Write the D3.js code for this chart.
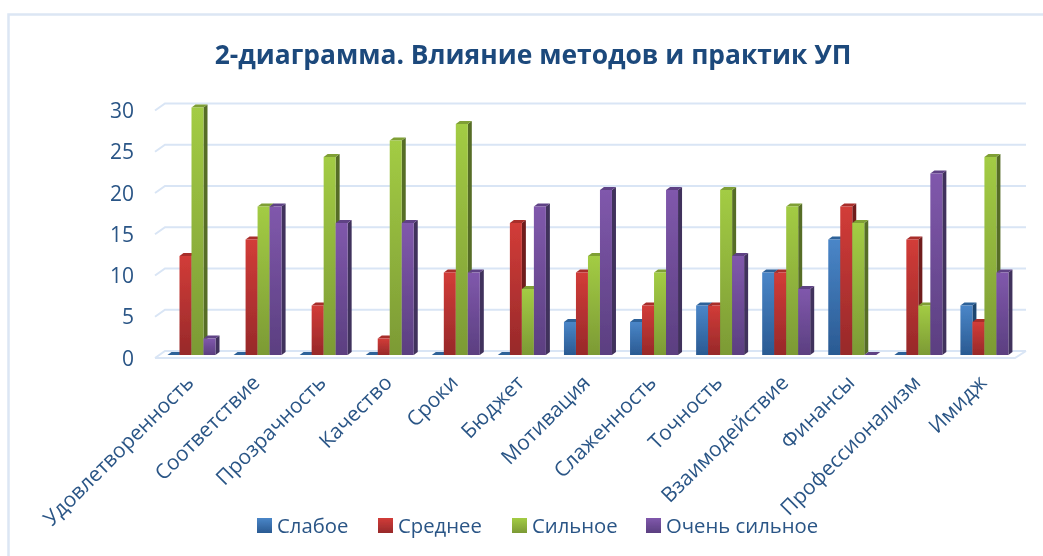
<!DOCTYPE html>
<html>
<head>
<meta charset="utf-8">
<script src="https://cdn.jsdelivr.net/npm/d3@7"></script>
<style>
body{margin:0;background:#fff;}
text{font-family:"Open Sans",sans-serif;}
</style>
</head>
<body>
<div id="chart"></div>
<script>
var categories = ['Удовлетворенность','Соответствие','Прозрачность','Качество','Сроки','Бюджет','Мотивация','Слаженность','Точность','Взаимодействие','Финансы','Профессионализм','Имидж'];
var seriesNames = ['Слабое','Среднее','Сильное','Очень сильное'];
var weak = [0,0,0,0,0,0,4,4,6,10,14,0,6];
var medium = [12,14,6,2,10,16,10,6,6,10,18,14,4];
var strong = [30,18,24,26,28,8,12,10,20,18,16,6,24];
var veryStrong = [2,18,16,16,10,18,20,20,12,8,0,22,10];
var yTicks = [0,5,10,15,20,25,30];
var colors = [
    {top:'#4a86c8',bottom:'#2a5a92',side:'#1f4470',cap:'#2f6299'},
    {top:'#d23c38',bottom:'#97292a',side:'#6f1f1e',cap:'#a82d2b'},
    {top:'#a3cc44',bottom:'#7c9a35',side:'#566d26',cap:'#7f9f35'},
    {top:'#8058ac',bottom:'#5b3f80',side:'#40305c',cap:'#5f4285'}
];
var allValues = [weak,medium,strong,veryStrong];
var textColor = '#2a5586';
var W = 1043, H = 556;
var dx = 4, dy = 3;   // fake 3d depth of a bar

var svg = d3.select('#chart').append('svg').attr('width',W).attr('height',H).style('display','block');
var defs = svg.append('defs');
colors.forEach(function(c,i){
    var g = defs.append('linearGradient').attr('id','grad'+i).attr('x1',0).attr('y1',0).attr('x2',0).attr('y2',1);
    g.append('stop').attr('offset','0%').attr('stop-color',c.top);
    g.append('stop').attr('offset','100%').attr('stop-color',c.bottom);
});
defs.append('filter').attr('id','soft').append('feGaussianBlur').attr('stdDeviation',0.4);
var root = svg.append('g').attr('filter','url(#soft)');

// frame
root.append('path').attr('d','M8.5,556V14.5H1043').attr('fill','none').attr('stroke','#dce6f4').attr('stroke-width',2.5);

root.append('text').attr('x',533).attr('y',64).attr('text-anchor','middle')
    .attr('font-size',26.4).attr('font-weight',700).attr('fill','#1f4a7c')
    .text('2-диаграмма. Влияние методов и практик УП');

var x = d3.scaleBand().domain(categories).range([155,1014]);
var y = d3.scaleLinear().domain([0,30]).range([355,107.5]);

// gridlines with the little step at the wall corner
var grid = root.append('g').attr('fill','none').attr('stroke','#d9e5f5').attr('stroke-width',2);
grid.selectAll('path').data(yTicks).enter().append('path').attr('d',function(d){
    return 'M155,' + (y(d)+3) + 'L165,' + (y(d)-4) + 'H1026';
});
grid.append('path').attr('d','M155,' + (y(0)+3) + 'H1015L1026,' + (y(0)-4));

root.append('g').selectAll('text').data(yTicks).enter().append('text')
    .attr('x',134).attr('y',function(d){return y(d)+10.5;})
    .attr('text-anchor','end').attr('font-size',21).attr('fill',textColor)
    .text(function(d){return d;});

// bars, left to right so a later bar hides the side of the one before it
var barW = 12;
var bars = root.append('g');
categories.forEach(function(cat,ci){
    allValues.forEach(function(vals,si){
        var v = vals[ci];
        var left = x(cat) + 12.5 + si*barW;
        var top = y(v), base = y(0);
        var c = colors[si];
        bars.append('path').attr('fill',c.side)
            .attr('d','M'+(left+barW)+','+top+'l'+dx+','+(-dy)+'V'+(base-dy)+'L'+(left+barW)+','+base+'Z');
        bars.append('path').attr('fill',c.cap)
            .attr('d','M'+left+','+top+'l'+dx+','+(-dy)+'h'+barW+'l'+(-dx)+','+dy+'Z');
        if (v > 0) bars.append('rect').attr('x',left).attr('y',top).attr('width',barW).attr('height',base-top)
            .attr('fill','url(#grad'+si+')');
    });
});

root.append('g').selectAll('text').data(categories).enter().append('text')
    .attr('transform',function(d){return 'translate('+(x(d)+40)+',384) rotate(-45)';})
    .attr('text-anchor','end').attr('font-size',20.8).attr('fill',textColor)
    .text(function(d){return d;});

// legend
var legendX = [257,378,512,646];
var legend = root.append('g').selectAll('g').data(seriesNames).enter().append('g')
    .attr('transform',function(d,i){return 'translate('+legendX[i]+',518)';});
legend.append('rect').attr('width',15).attr('height',15).attr('fill',function(d,i){return 'url(#grad'+i+')';});
legend.append('text').attr('x',20).attr('y',15).attr('font-size',20.3).attr('fill',textColor)
    .text(function(d){return d;});
</script>
</body>
</html>
